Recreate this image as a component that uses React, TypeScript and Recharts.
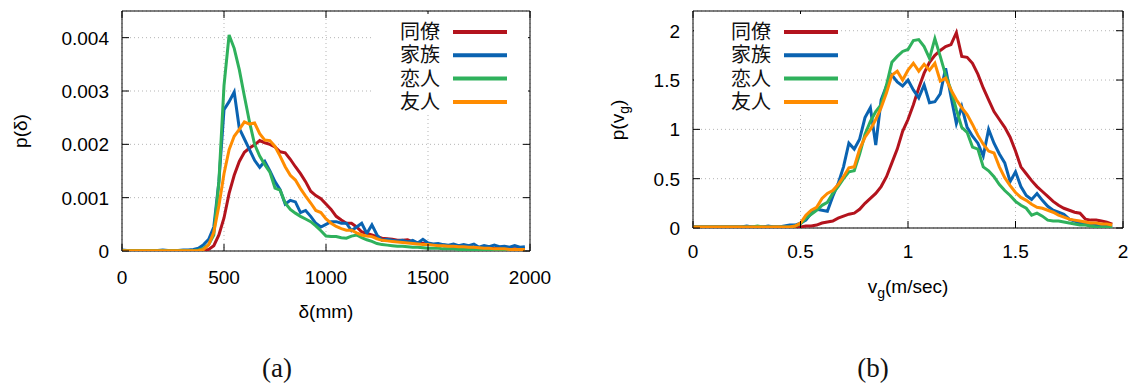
import React from 'react';
import { LineChart, Line, XAxis, YAxis, CartesianGrid, ReferenceArea, Label } from 'recharts';

const SERIES = ['同僚', '家族', '恋人', '友人'];
const COLORS = ['#b3131d', '#0a63b1', '#2fb15c', '#ff8c00'];

// (a) distance δ in mm
const deltaMm = [
  0, 25, 50, 75, 100, 125, 150, 175, 200, 225, 250, 275, 300, 325, 350, 375,
  400, 425, 450, 475, 500, 525, 550, 575, 600, 625, 650, 675, 700, 725, 750, 775,
  800, 825, 850, 875, 900, 925, 950, 975, 1000, 1025, 1050, 1075, 1100, 1125, 1150, 1175,
  1200, 1225, 1250, 1275, 1300, 1325, 1350, 1375, 1400, 1425, 1450, 1475, 1500, 1525, 1550, 1575,
  1600, 1625, 1650, 1675, 1700, 1725, 1750, 1775, 1800, 1825, 1850, 1875, 1900, 1925, 1950, 1975,
];
// p(δ), in units of 0.001
const pDeltaColleague = [
  0, 0, 0, 0, 0, 0, 0, 0, 0, 0, 0, 0, 0, 0, 0, 0.005,
  0.01, 0.03, 0.1, 0.3, 0.62, 1.08, 1.42, 1.68, 1.85, 1.93, 1.99, 2.07, 2.03, 2.0, 1.95, 1.86,
  1.84, 1.72, 1.58, 1.45, 1.3, 1.12, 1.04, 0.98, 0.88, 0.78, 0.65, 0.58, 0.52, 0.52, 0.45, 0.36,
  0.33, 0.3, 0.27, 0.24, 0.23, 0.22, 0.2, 0.2, 0.21, 0.17, 0.15, 0.14, 0.13, 0.12, 0.12, 0.1,
  0.1, 0.09, 0.09, 0.08, 0.08, 0.07, 0.06, 0.06, 0.05, 0.05, 0.05, 0.04, 0.04, 0.04, 0.04, 0.03,
];
const pDeltaFamily = [
  0.02, 0.01, 0.01, 0.01, 0.01, 0, 0.01, 0.01, 0.02, 0.01, 0.01, 0.01, 0.02, 0.02, 0.03, 0.05,
  0.12, 0.22, 0.45, 1.3, 2.65, 2.8, 2.98, 2.3, 2.1, 1.9, 1.7, 1.57, 1.68, 1.5, 1.3, 1.15,
  0.88, 0.95, 0.92, 0.72, 0.76, 0.65, 0.52, 0.45, 0.5, 0.55, 0.55, 0.52, 0.52, 0.38, 0.45, 0.52,
  0.33, 0.49, 0.3, 0.2, 0.22, 0.2, 0.19, 0.2, 0.17, 0.2, 0.15, 0.22, 0.15, 0.13, 0.14, 0.12,
  0.11, 0.13, 0.1, 0.12, 0.1, 0.13, 0.07, 0.1, 0.08, 0.11, 0.08, 0.09, 0.07, 0.1, 0.07, 0.08,
];
const pDeltaPartner = [
  0.01, 0.01, 0.01, 0.01, 0.01, 0.01, 0.01, 0.01, 0.01, 0.01, 0.01, 0.01, 0.01, 0.01, 0.01, 0.02,
  0.05, 0.12, 0.3, 1.3, 3.1, 4.05, 3.8, 3.4, 2.9, 2.42, 2.0, 1.78, 1.62, 1.48, 1.18, 1.14,
  0.9, 0.78, 0.71, 0.65, 0.6, 0.55, 0.47, 0.38, 0.28, 0.27, 0.27, 0.25, 0.24, 0.28, 0.3, 0.25,
  0.21, 0.18, 0.14, 0.12, 0.11, 0.1, 0.09, 0.09, 0.08, 0.07, 0.07, 0.06, 0.05, 0.05, 0.05, 0.04,
  0.04, 0.04, 0.03, 0.03, 0.03, 0.03, 0.02, 0.02, 0.02, 0.02, 0.01, 0.01, 0.01, 0.01, 0.01, 0.01,
];
const pDeltaFriend = [
  0.005, 0.005, 0.005, 0.005, 0.005, 0.005, 0.005, 0.005, 0.005, 0.005, 0.005, 0.005, 0.005, 0.005, 0.005, 0.01,
  0.03, 0.12, 0.35, 0.85, 1.45, 1.9, 2.15, 2.28, 2.42, 2.38, 2.4, 2.2, 2.08, 2.07, 1.96, 1.78,
  1.58, 1.42, 1.33, 1.17, 1.03, 0.9, 0.76, 0.72, 0.6, 0.52, 0.46, 0.42, 0.39, 0.39, 0.34, 0.3,
  0.28, 0.27, 0.23, 0.2, 0.19, 0.18, 0.17, 0.16, 0.15, 0.14, 0.13, 0.12, 0.12, 0.11, 0.1, 0.1,
  0.09, 0.09, 0.08, 0.08, 0.07, 0.07, 0.06, 0.05, 0.05, 0.04, 0.04, 0.04, 0.03, 0.03, 0.03, 0.03,
];
const deltaTicks = [0, 500, 1000, 1500, 2000];
const pDeltaTicks = [0, 0.001, 0.002, 0.003, 0.004];

// (b) walking speed v_g in m/sec
const vg = [
  0, 0.025, 0.05, 0.075, 0.1, 0.125, 0.15, 0.175, 0.2, 0.225, 0.25, 0.275, 0.3, 0.325, 0.35, 0.375,
  0.4, 0.425, 0.45, 0.475, 0.5, 0.525, 0.55, 0.575, 0.6, 0.625, 0.65, 0.675, 0.7, 0.725, 0.75, 0.775,
  0.8, 0.825, 0.85, 0.875, 0.9, 0.925, 0.95, 0.975, 1, 1.025, 1.05, 1.075, 1.1, 1.125, 1.15, 1.175,
  1.2, 1.225, 1.25, 1.275, 1.3, 1.325, 1.35, 1.375, 1.4, 1.425, 1.45, 1.475, 1.5, 1.525, 1.55, 1.575,
  1.6, 1.625, 1.65, 1.675, 1.7, 1.725, 1.75, 1.775, 1.8, 1.825, 1.85, 1.875, 1.9, 1.925, 1.95,
];
const pVgColleague = [
  0.01, 0.01, 0.01, 0.01, 0.01, 0.01, 0.01, 0.01, 0.01, 0.01, 0.01, 0.01, 0.01, 0.01, 0.01, 0.01,
  0.01, 0.01, 0.01, 0.01, 0.01, 0.02, 0.02, 0.03, 0.05, 0.06, 0.07, 0.1, 0.12, 0.14, 0.15, 0.19,
  0.25, 0.3, 0.35, 0.42, 0.52, 0.66, 0.8, 0.98, 1.1, 1.25, 1.42, 1.57, 1.68, 1.75, 1.8, 1.84,
  1.86, 1.98, 1.74, 1.73, 1.67, 1.56, 1.42, 1.3, 1.18, 1.1, 1.02, 0.92, 0.78, 0.62, 0.55, 0.48,
  0.42, 0.37, 0.32, 0.27, 0.23, 0.2, 0.18, 0.16, 0.15, 0.09, 0.08, 0.08, 0.07, 0.06, 0.04,
];
const pVgFamily = [
  0.01, 0.01, 0.01, 0.01, 0.01, 0.01, 0.01, 0.01, 0.01, 0.01, 0.02, 0.01, 0.01, 0.01, 0.02, 0.01,
  0.01, 0.02, 0.03, 0.03, 0.05, 0.08, 0.15, 0.19, 0.18, 0.17, 0.32, 0.45, 0.62, 0.86, 0.8, 0.9,
  1.12, 1.22, 0.84, 1.3, 1.44, 1.55, 1.48, 1.44, 1.5, 1.4, 1.32, 1.45, 1.27, 1.28, 1.36, 1.62,
  1.33, 1.06, 1.23, 1.02, 0.93, 0.86, 0.73, 1.0, 0.86, 0.75, 0.66, 0.47, 0.57, 0.42, 0.33, 0.29,
  0.35, 0.28, 0.22, 0.18, 0.16, 0.14, 0.09, 0.07, 0.05, 0.04, 0.03, 0.03, 0.03, 0.02, 0.02,
];
const pVgPartner = [
  0.01, 0.01, 0.01, 0.01, 0.01, 0.01, 0.01, 0.01, 0.01, 0.01, 0.01, 0.01, 0.02, 0.01, 0.01, 0.01,
  0.01, 0.01, 0.01, 0.02, 0.04, 0.1, 0.14, 0.18, 0.23, 0.26, 0.35, 0.42, 0.5, 0.57, 0.58, 0.75,
  0.95, 1.08, 1.18, 1.25, 1.45, 1.68, 1.74, 1.79, 1.81, 1.9, 1.91, 1.84, 1.72, 1.92, 1.74, 1.55,
  1.4, 1.2, 1.02, 0.97, 0.82, 0.8, 0.62, 0.58, 0.52, 0.44, 0.38, 0.33, 0.27, 0.23, 0.2, 0.13,
  0.15, 0.12, 0.08, 0.07, 0.07, 0.06, 0.05, 0.04, 0.03, 0.03, 0.02, 0.01, 0.01, 0.01, 0.01,
];
const pVgFriend = [
  0.01, 0.01, 0.01, 0.01, 0.01, 0.01, 0.01, 0.01, 0.01, 0.01, 0.01, 0.01, 0.01, 0.01, 0.01, 0.01,
  0.01, 0.01, 0.01, 0.02, 0.05, 0.13, 0.18, 0.21, 0.3, 0.35, 0.38, 0.44, 0.52, 0.61, 0.62, 0.8,
  0.92, 1.0, 1.1, 1.22, 1.37, 1.55, 1.59, 1.5, 1.6, 1.67, 1.59, 1.66, 1.6, 1.67, 1.49, 1.52,
  1.4, 1.3, 1.22, 1.15, 1.05, 0.94, 0.85, 0.78, 0.76, 0.62, 0.51, 0.43, 0.36, 0.31, 0.28, 0.24,
  0.21, 0.2, 0.18, 0.16, 0.13, 0.11, 0.09, 0.08, 0.07, 0.06, 0.05, 0.05, 0.04, 0.04, 0.03,
];
const vgTicks = [0, 0.5, 1, 1.5, 2];
const pVgTicks = [0, 0.5, 1, 1.5, 2];

const deltaRows = deltaMm.map((x, i) => ({
  x,
  同僚: pDeltaColleague[i] / 1000,
  家族: pDeltaFamily[i] / 1000,
  恋人: pDeltaPartner[i] / 1000,
  友人: pDeltaFriend[i] / 1000,
}));

const vgRows = vg.map((x, i) => ({
  x,
  同僚: pVgColleague[i],
  家族: pVgFamily[i],
  恋人: pVgPartner[i],
  友人: pVgFriend[i],
}));

const AX_FONT = '"Liberation Sans", Arial, Helvetica, sans-serif';
const CJK_FONT = '"Noto Sans CJK JP", "Noto Sans CJK SC", sans-serif';
const TICK = 7;
const FS = 19;

// gnuplot style: ticks point inwards, mirrored on the opposite side
const xTick = (plotTop: number, dy: number) => (p: any) => (
  <g>
    <line x1={p.x} y1={p.y} x2={p.x} y2={p.y - TICK} stroke="#000" />
    <line x1={p.x} y1={plotTop} x2={p.x} y2={plotTop + TICK} stroke="#000" />
    <text x={p.x} y={p.y + dy} textAnchor="middle" fontSize={FS} fontFamily={AX_FONT} fill="#000">
      {p.payload.value}
    </text>
  </g>
);

const yTick = (plotRight: number) => (p: any) => (
  <g>
    <line x1={p.x} y1={p.y} x2={p.x + TICK} y2={p.y} stroke="#000" />
    <line x1={plotRight} y1={p.y} x2={plotRight - TICK} y2={p.y} stroke="#000" />
    <text x={p.x - 13} y={p.y + 7} textAnchor="end" fontSize={FS} fontFamily={AX_FONT} fill="#000">
      {p.payload.value}
    </text>
  </g>
);

const ROW = 23.3;

// legend in a white box that hides the grid behind it; one text block, one line per row
function Key({ left, top, width, textW }: { left: number; top: number; width: number; textW: number }) {
  return (
    <svg style={{ position: 'absolute', left, top, background: '#fff' }} width={width} height={100}>
      <text textAnchor="end" fontSize={20} fontFamily={CJK_FONT} fill="#111">
        {SERIES.map((s, i) => (
          <tspan key={s} x={textW} y={25 + i * ROW}>{s}</tspan>
        ))}
      </text>
      {SERIES.map((s, i) => (
        <line key={s} x1={textW + 13} x2={textW + 67} y1={18 + i * ROW} y2={18 + i * ROW} stroke={COLORS[i]} strokeWidth={4} />
      ))}
    </svg>
  );
}

function DeltaChart() {
  return (
    <div style={{ position: 'absolute', left: 0, top: 0 }}>
      <LineChart width={560} height={330} data={deltaRows} margin={{ top: 11, right: 30, bottom: 0, left: 0 }}>
        <CartesianGrid stroke="#b5b5b5" strokeDasharray="1 3" />
        <XAxis
          type="number" dataKey="x" domain={[0, 2000]} ticks={deltaTicks} interval={0}
          height={79} tickSize={0} tickMargin={0} tickLine={false} axisLine={false}
          tick={xTick(11, 32.5)}
        >
          <Label
            content={() => (
              <text x={326} y={318} textAnchor="middle" fontSize={FS} fontFamily={AX_FONT} fill="#000">δ(mm)</text>
            )}
          />
        </XAxis>
        <YAxis
          type="number" domain={[0, 0.0045]} ticks={pDeltaTicks} interval={0} allowDataOverflow
          width={122} tickSize={0} tickMargin={0} tickLine={false} axisLine={false}
          tick={yTick(530)}
        >
          <Label
            content={() => (
              <text x={27} y={131} transform="rotate(-90, 27, 131)" textAnchor="middle" fontSize={FS} fontFamily={AX_FONT} fill="#000">p(δ)</text>
            )}
          />
        </YAxis>
        <ReferenceArea x1={0} x2={2000} y1={0} y2={0.0045} fill="none" stroke="#000" strokeWidth={1} />
        {SERIES.map((s, i) => (
          <Line key={s} type="linear" dataKey={s} stroke={COLORS[i]} strokeWidth={3} dot={false} isAnimationActive={false} />
        ))}
      </LineChart>
      <Key left={373} top={14} width={155} textW={67} />
    </div>
  );
}

function VgChart() {
  return (
    <div style={{ position: 'absolute', left: 570, top: 0 }}>
      <LineChart width={568} height={330} data={vgRows} margin={{ top: 11, right: 15, bottom: 0, left: 0 }}>
        <CartesianGrid stroke="#b5b5b5" strokeDasharray="1 3" />
        <XAxis
          type="number" dataKey="x" domain={[0, 2]} ticks={vgTicks} interval={0}
          height={102} tickSize={0} tickMargin={0} tickLine={false} axisLine={false}
          tick={xTick(11, 30.2)}
        >
          <Label
            content={() => (
              <text x={338} y={293} textAnchor="middle" fontSize={FS} fontFamily={AX_FONT} fill="#000">
                v<tspan fontSize={14} dy={5}>g</tspan><tspan dy={-5}>(m/sec)</tspan>
              </text>
            )}
          />
        </XAxis>
        <YAxis
          type="number" domain={[0, 2.2]} ticks={pVgTicks} interval={0} allowDataOverflow
          width={123} tickSize={0} tickMargin={0} tickLine={false} axisLine={false}
          tick={yTick(553)}
        >
          <Label
            content={() => (
              <text x={54} y={120} transform="rotate(-90, 54, 120)" textAnchor="middle" fontSize={FS} fontFamily={AX_FONT} fill="#000">
                p(v<tspan fontSize={14} dy={5}>g</tspan><tspan dy={-5}>)</tspan>
              </text>
            )}
          />
        </YAxis>
        <ReferenceArea x1={0} x2={2} y1={0} y2={2.2} fill="none" stroke="#000" strokeWidth={1} />
        {SERIES.map((s, i) => (
          <Line key={s} type="linear" dataKey={s} stroke={COLORS[i]} strokeWidth={3} dot={false} isAnimationActive={false} />
        ))}
      </LineChart>
      <Key left={124} top={14} width={146} textW={77} />
    </div>
  );
}

const captionStyle: React.CSSProperties = {
  position: 'absolute', top: 368, transform: 'translate(-50%, -50%)',
  fontFamily: '"Liberation Serif", "DejaVu Serif", serif', fontSize: 27, color: '#111',
};

export default function App() {
  return (
    <div style={{ position: 'absolute', left: 0, top: 0, width: 1138, height: 389, background: '#fff' }}>
      <DeltaChart />
      <VgChart />
      <div style={{ ...captionStyle, left: 277 }}>(a)</div>
      <div style={{ ...captionStyle, left: 873 }}>(b)</div>
    </div>
  );
}
